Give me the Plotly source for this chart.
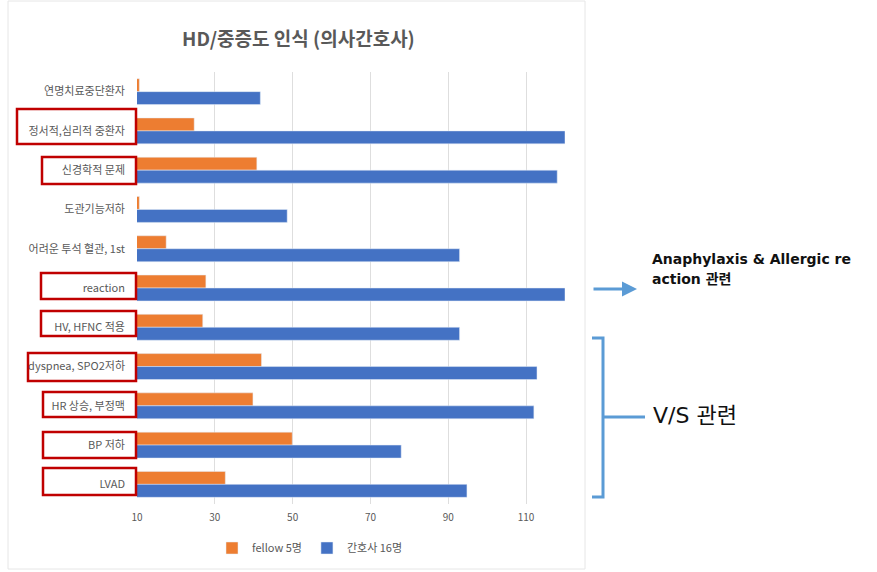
import plotly.graph_objects as go

categories = ["연명치료중단환자", "정서적,심리적 중환자", "신경학적 문제", "도관기능저하",
              "어려운 투석 혈관, 1st", "reaction", "HV, HFNC 적용", "dyspnea, SPO2저하",
              "HR 상승, 부정맥", "BP 저하", "LVAD"]
fellow = [10.6, 24.7, 40.8, 10.6, 17.5, 27.7, 26.9, 42.0, 39.8, 49.9, 32.7]
nurse = [41.7, 120, 118.0, 48.6, 92.9, 120, 92.9, 112.8, 112.0, 77.9, 94.8]
x_ticks = [10, 30, 50, 70, 90, 110]
boxed = ["정서적,심리적 중환자", "신경학적 문제", "reaction", "HV, HFNC 적용",
         "dyspnea, SPO2저하", "HR 상승, 부정맥", "BP 저하", "LVAD"]

W, H = 877, 572
L, R, T, B = 137, 312, 72, 68
PW, PH = W - L - R, H - T - B


def px(xp):
    return (xp - L) / PW


def py(yp):
    return 1 - (yp - T) / PH


FONT = "Noto Sans CJK KR"
WIDE = "DejaVu Sans, Noto Sans CJK KR"
GREY = "#595959"
BLUE_ANN = "#5B9BD5"

fig = go.Figure()
fig.add_trace(go.Bar(y=categories, x=fellow, orientation="h", name="fellow 5명",
                     marker_color="#ED7D31", base=0))
fig.add_trace(go.Bar(y=categories, x=nurse, orientation="h", name="간호사 16명",
                     marker_color="#4472C4", base=0))

shapes = []
# outer chart border
shapes.append(dict(type="rect", xref="paper", yref="paper", x0=px(8), x1=px(585),
                   y0=py(569), y1=py(1), line=dict(color="#e6e6e6", width=1), layer="below"))

# red label boxes (left edge, top, bottom in pixels)
box_px = {
    "정서적,심리적 중환자": (17, 109, 144),
    "신경학적 문제": (42, 157, 184),
    "reaction": (41, 273, 299),
    "HV, HFNC 적용": (41, 311, 336),
    "dyspnea, SPO2저하": (28, 353, 381),
    "HR 상승, 부정맥": (43, 392, 417),
    "BP 저하": (43, 432, 458),
    "LVAD": (43, 468, 495),
}
for c in boxed:
    x0, y0, y1 = box_px[c]
    shapes.append(dict(type="rect", xref="paper", yref="paper", x0=px(x0), x1=px(136),
                       y0=py(y1), y1=py(y0), line=dict(color="#C00000", width=2.5)))

# bracket
shapes.append(dict(type="path", xref="paper", yref="paper",
                   path=f"M {px(592)} {py(338)} L {px(603)} {py(338)} L {px(603)} {py(497)} L {px(592)} {py(497)}",
                   line=dict(color=BLUE_ANN, width=3)))
shapes.append(dict(type="line", xref="paper", yref="paper", x0=px(603), x1=px(645),
                   y0=py(417), y1=py(417), line=dict(color=BLUE_ANN, width=3)))

annotations = [
    dict(text="<b>HD/중증도 인식 (의사간호사)</b>", xref="paper", yref="paper", x=px(298), y=py(38),
         showarrow=False, font=dict(family=FONT, size=19, color=GREY), xanchor="center", yanchor="middle"),
    dict(text="", xref="paper", yref="paper", x=px(637), y=py(289), ax=-45, ay=0,
         showarrow=True, arrowhead=2, arrowsize=1, arrowwidth=3, arrowcolor=BLUE_ANN),
    dict(text="<b>Anaphylaxis & Allergic re</b>", xref="paper", yref="paper",
         x=px(650), y=py(259), showarrow=False, xanchor="left", yanchor="middle",
         font=dict(family=WIDE, size=14, color="#111111")),
    dict(text="<b>action 관련</b>", xref="paper", yref="paper",
         x=px(650), y=py(279), showarrow=False, xanchor="left", yanchor="middle",
         font=dict(family=WIDE, size=14, color="#111111")),
    dict(text="V/S 관련", xref="paper", yref="paper", x=px(651), y=py(415), showarrow=False,
         xanchor="left", yanchor="middle", font=dict(family=WIDE, size=22, color="#111111")),
]

fig.update_layout(
    width=W, height=H,
    margin=dict(l=L, r=R, t=T, b=B, autoexpand=False),
    paper_bgcolor="white", plot_bgcolor="white",
    barmode="group", bargap=0.34, bargroupgap=0,
    font=dict(family=FONT, size=10, color=GREY),
    xaxis=dict(range=[10, 120], tickvals=x_ticks, showgrid=True, gridcolor="#dedede",
               zeroline=False, showline=False, ticks="", ticklabelstandoff=6,
               tickfont=dict(size=10, color=GREY)),
    yaxis=dict(autorange="reversed", showgrid=False, zeroline=False, showline=False,
               ticks="", ticklabelstandoff=11, tickfont=dict(size=11, color=GREY)),
    legend=dict(orientation="h", xref="paper", yref="paper", x=px(212), y=py(548),
                xanchor="left", yanchor="middle", font=dict(size=11, color=GREY),
                itemwidth=30, bgcolor="rgba(0,0,0,0)"),
    shapes=shapes, annotations=annotations,
)

fig.write_html("out.html")
